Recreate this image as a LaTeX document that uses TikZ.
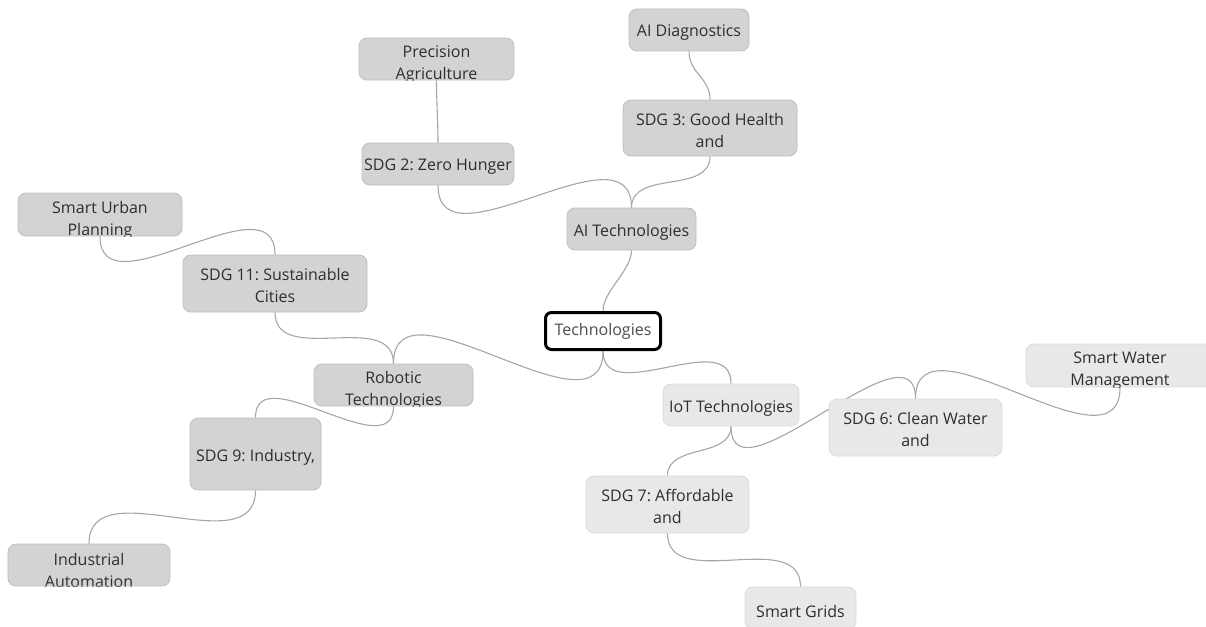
\documentclass[tikz,border=0pt]{standalone}
\usepackage{fontspec}
\setmainfont{Open Sans}
\frenchspacing
\definecolor{darkfill}{HTML}{D3D3D3}
\definecolor{darkline}{HTML}{BEBEBE}
\definecolor{lightfill}{HTML}{E8E8E8}
\definecolor{lightline}{HTML}{DADADA}
\definecolor{linkcol}{HTML}{A6A6A6}
\definecolor{textcol}{HTML}{2E2E2E}
\pgfdeclarelayer{bg}
\pgfsetlayers{bg,main}
\begin{document}
\begin{tikzpicture}[x=1pt,y=-1pt,
  topic/.style={rounded corners=8pt, line width=0.8pt, inner sep=0pt},
  darktopic/.style={topic, fill=darkfill, draw=darkline},
  lighttopic/.style={topic, fill=lightfill, draw=lightline},
  txt/.style={font=\fontsize{16}{22}\selectfont, text=textcol, align=center,
    inner sep=0pt, draw=none, fill=none},
  caption/.style 2 args={path picture={
    \node[txt] at ([yshift=#1]path picture bounding box.center) {#2};}},
  link/.style={draw=linkcol, line width=1.1pt}
]
\useasboundingbox (0,0) rectangle (1206,626);

% central topic
\node[topic, txt, draw=black, fill=white, line width=3pt, rounded corners=6pt,
  minimum width=115pt, minimum height=37pt, text=black!70] (tech) at (603,331) {Technologies};

% AI branch
\node[darktopic, minimum width=129pt, minimum height=42pt,
  caption={-3pt}{AI Technologies}] (ait) at (631.5,229) {};
\node[darktopic, minimum width=152pt, minimum height=42pt,
  caption={-3pt}{SDG 2: Zero Hunger}] (sdg2) at (438,164) {};
\node[darktopic, minimum width=155pt, minimum height=42pt,
  caption={-5.5pt}{Precision\\Agriculture}] (pa) at (436.5,59) {};
\node[darktopic, minimum width=174pt, minimum height=56pt,
  caption={-2pt}{SDG 3: Good Health\\and}] (sdg3) at (710,128) {};
\node[darktopic, minimum width=120pt, minimum height=42pt,
  caption={-3pt}{AI Diagnostics}] (aid) at (689,30) {};

% Robotic branch
\node[darktopic, minimum width=159pt, minimum height=42pt,
  caption={-5.5pt}{Robotic\\Technologies}] (rob) at (393.5,385) {};
\node[darktopic, minimum width=184pt, minimum height=57pt,
  caption={-2pt}{SDG 11: Sustainable\\Cities}] (sdg11) at (275,283.5) {};
\node[darktopic, minimum width=164pt, minimum height=43pt,
  caption={-5.5pt}{Smart Urban\\Planning}] (sup) at (100,214.5) {};
\node[darktopic, minimum width=131pt, minimum height=72pt,
  caption={-3pt}{SDG 9: Industry,}] (sdg9) at (255.5,454) {};
\node[darktopic, minimum width=162pt, minimum height=42pt,
  caption={-5.5pt}{Industrial\\Automation}] (ind) at (89,565) {};

% IoT branch
\node[lighttopic, minimum width=136pt, minimum height=42pt,
  caption={-3pt}{IoT Technologies}] (iot) at (731,405) {};
\node[lighttopic, minimum width=173pt, minimum height=57pt,
  caption={-2pt}{SDG 6: Clean Water\\and}] (sdg6) at (915.5,427.5) {};
\node[lighttopic, minimum width=188pt, minimum height=43pt,
  caption={-5.5pt}{Smart Water\\Management}] (swm) at (1120,365.5) {};
\node[lighttopic, minimum width=163pt, minimum height=57pt,
  caption={-2pt}{SDG 7: Affordable\\and}] (sdg7) at (667.5,504.5) {};
\node[lighttopic, minimum width=111pt, minimum height=42pt,
  caption={-3pt}{Smart Grids}] (sg) at (800.5,608) {};

% connectors: vertical tangents at both ends, pull grows with the horizontal gap
\begin{pgfonlayer}{bg}
\draw[link] (tech.north) .. controls +(0,-20) and +(0,20) .. (ait.south);
\draw[link] (ait.north) .. controls +(0,-87) and +(0,87) .. (sdg2.south);
\draw[link] (ait.north) .. controls +(0,-38) and +(0,38) .. (sdg3.south);
\draw[link] (sdg3.north) .. controls +(0,-22) and +(0,22) .. (aid.south);
\draw[link] (sdg2.north) .. controls +(0,-20) and +(0,20) .. (pa.south);

\draw[link] (tech.south) .. controls +(0,94) and +(0,-94) .. (rob.north);
\draw[link] (rob.north) .. controls +(0,-55) and +(0,55) .. (sdg11.south);
\draw[link] (sdg11.north) .. controls +(0,-79) and +(0,79) .. (sup.south);
\draw[link] (rob.south) .. controls +(0,62) and +(0,-62) .. (sdg9.north);
\draw[link] (sdg9.south) .. controls +(0,75) and +(0,-75) .. (ind.north);

\draw[link] (tech.south) .. controls +(0,58) and +(0,-58) .. (iot.north);
\draw[link] (iot.south) .. controls +(0,83) and +(0,-83) .. (sdg6.north);
\draw[link] (sdg6.north) .. controls +(0,-92) and +(0,92) .. (swm.south);
\draw[link] (iot.south) .. controls +(0,32) and +(0,-32) .. (sdg7.north);
\draw[link] (sdg7.south) .. controls +(0,60) and +(0,-60) .. (sg.north);
\end{pgfonlayer}
\end{tikzpicture}
\end{document}
